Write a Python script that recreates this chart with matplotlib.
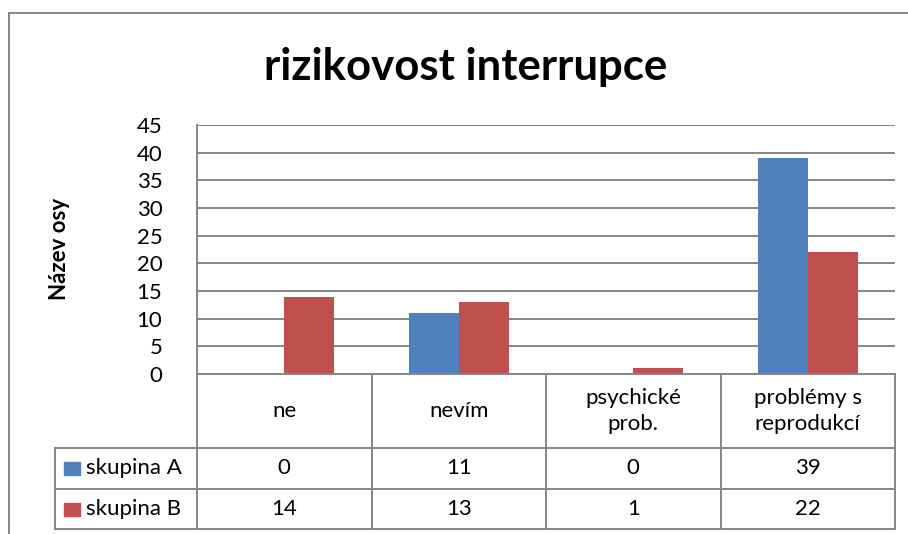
import matplotlib.pyplot as plt
from matplotlib.patches import Rectangle

# Data
categories = ['ne', 'nevím', 'psychické\nprob.', 'problémy s\nreprodukcí']
series_names = ['skupina A', 'skupina B']
skupina_a = [0, 11, 0, 39]
skupina_b = [14, 13, 1, 22]
y_ticks = [0, 5, 10, 15, 20, 25, 30, 35, 40, 45]

BLUE = '#4F81BD'
RED = '#C0504D'
GRID = '#868686'
W, H = 908, 534

plt.rcParams['font.family'] = ['Lato', 'DejaVu Sans']


def fx(px):
    return px / W


def fy(py):
    return 1 - py / H


fig = plt.figure(figsize=(W / 100, H / 100), dpi=100)

# vnejsi ramecek grafu
fig.add_artist(plt.Line2D([fx(9), 1], [fy(13), fy(13)], color=GRID, lw=1.4))
fig.add_artist(plt.Line2D([fx(9), fx(9)], [fy(13), 0], color=GRID, lw=1.4))

# oblast grafu
left, right, top, zero = 197, 895, 125, 374
ax = fig.add_axes([fx(left), fy(zero), fx(right - left), (zero - top) / H])
n = len(categories)
cat_w = (right - left) / n
bw = 50 / cat_w
xs = list(range(n))
ax.bar([x - bw / 2 for x in xs], skupina_a, width=bw, color=BLUE, zorder=3)
ax.bar([x + bw / 2 for x in xs], skupina_b, width=bw, color=RED, zorder=3)
ax.set_xlim(-0.5, n - 0.5)
ax.set_ylim(0, 45)
ax.set_yticks(y_ticks)
ax.set_xticks([])
ax.yaxis.grid(True, color=GRID, lw=1.4, zorder=0)
for s in ['top', 'right', 'bottom']:
    ax.spines[s].set_visible(False)
ax.spines['left'].set_color(GRID)
ax.spines['left'].set_linewidth(1.4)
ax.tick_params(axis='y', length=0, labelsize=16, pad=25)

fig.text(fx(60), fy(249), 'Název osy', rotation=90, ha='center', va='center',
         fontsize=16, fontweight='bold')

fig.text(0.5 * (fx(263) + fx(668)), fy(80), 'rizikovost interrupce',
         ha='center', va='baseline', fontsize=31.5, fontweight='bold')

# tabulka dat
tab_left, tab_bottom = 55, 529
row_lines = [374, 448, 489, 529]
lab_w = (left - tab_left) / cat_w
tax = fig.add_axes([fx(tab_left), fy(tab_bottom), fx(right - tab_left), (tab_bottom - zero) / H])
tax.set_xlim(-0.5 - lab_w, n - 0.5)
tax.set_ylim(tab_bottom, zero)
tax.axis('off')
lkw = dict(color=GRID, lw=1.4, solid_capstyle='projecting', clip_on=False)

tax.plot([-0.5, n - 0.5], [row_lines[0]] * 2, **lkw)
for yv in row_lines[1:]:
    tax.plot([-0.5 - lab_w, n - 0.5], [yv, yv], **lkw)
for i in range(n + 1):
    tax.plot([i - 0.5, i - 0.5], [row_lines[0], row_lines[-1]], **lkw)
tax.plot([-0.5 - lab_w] * 2, [row_lines[1], row_lines[-1]], **lkw)

for i, c in enumerate(categories):
    tax.text(i, (row_lines[0] + row_lines[1]) / 2, c, ha='center', va='center',
             fontsize=16, linespacing=1.35)

rows = [skupina_a, skupina_b]
colors = [BLUE, RED]
for r, (name, vals, col) in enumerate(zip(series_names, rows, colors)):
    yc = (row_lines[r + 1] + row_lines[r + 2]) / 2
    tax.add_patch(Rectangle((-0.5 - lab_w + 9 / cat_w, yc - 6.5), 16 / cat_w, 13,
                            color=col, clip_on=False))
    tax.text(-0.5 - lab_w + 31 / cat_w, yc, name, ha='left', va='center', fontsize=16)
    for i, v in enumerate(vals):
        tax.text(i, yc, str(v), ha='center', va='center', fontsize=16)

fig.savefig('out.png', dpi=100)
